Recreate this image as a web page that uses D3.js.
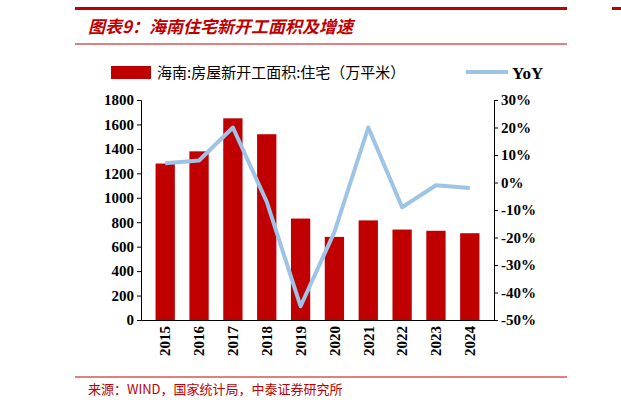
<!DOCTYPE html>
<html><head><meta charset="utf-8">
<script src="https://cdn.jsdelivr.net/npm/d3@7"></script>
<style>body{margin:0;background:#fff}</style>
</head><body>
<div id="chart"></div>
<script>
var years = ['2015','2016','2017','2018','2019','2020','2021','2022','2023','2024'];
var area = [1280, 1380, 1650, 1520, 830, 680, 815, 740, 730, 710];
var yoy = [7, 8, 20, -7, -45, -18, 20, -9, -1, -2];
var leftTicks = [0,200,400,600,800,1000,1200,1400,1600,1800];
var rightTicks = [-50,-40,-30,-20,-10,0,10,20,30];

var red = '#c00000', serif = '"Times New Roman","Liberation Serif",serif';
var svg = d3.select('#chart').append('svg').attr('width', 621).attr('height', 409);

svg.append('rect').attr('x', 75).attr('y', 7).attr('width', 492).attr('height', 3).attr('fill', red);
svg.append('rect').attr('x', 612).attr('y', 7).attr('width', 9).attr('height', 3).attr('fill', red);
svg.append('line').attr('x1', 75).attr('x2', 567).attr('y1', 44).attr('y2', 44).attr('stroke', red).attr('stroke-width', 1);
svg.append('text').attr('x', 88).attr('y', 33).attr('fill', red)
  .attr('font-size', 17).attr('font-weight', 'bold').attr('font-style', 'italic')
  .attr('font-family', '"Noto Sans CJK SC",sans-serif').text('图表9：海南住宅新开工面积及增速');

// legend
svg.append('rect').attr('x', 111).attr('y', 66).attr('width', 40).attr('height', 13).attr('fill', red);
svg.append('text').attr('x', 157).attr('y', 78).attr('font-size', 15)
  .attr('font-family', '"Noto Sans CJK SC",serif').text('海南:房屋新开工面积:住宅（万平米）');
svg.append('line').attr('x1', 466).attr('x2', 508).attr('y1', 72).attr('y2', 72)
  .attr('stroke', '#9dc3e6').attr('stroke-width', 4);
svg.append('text').attr('x', 512).attr('y', 79).attr('font-size', 17).attr('font-weight', 'bold')
  .attr('font-family', serif).text('YoY');

var x = d3.scaleBand().domain(years).range([141, 494]).padding(0.43);
var yl = d3.scaleLinear().domain([0, 1800]).range([320, 100]);
var yr = d3.scaleLinear().domain([-50, 30]).range([320, 100]);

svg.selectAll('.bar').data(area).enter().append('rect')
  .attr('x', function(d, i){ return x(years[i]); })
  .attr('width', x.bandwidth())
  .attr('y', function(d){ return yl(d); })
  .attr('height', function(d){ return 320 - yl(d); })
  .attr('fill', red);

var line = d3.line().x(function(d, i){ return x(years[i]) + x.bandwidth()/2; }).y(function(d){ return yr(d); });
svg.append('path').datum(yoy).attr('d', line).attr('fill', 'none')
  .attr('stroke', '#9dc3e6').attr('stroke-width', 4).attr('stroke-linejoin', 'round');

function styleAxis(g){
  g.selectAll('text').attr('font-family', serif).attr('font-size', 15).attr('font-weight', 'bold').attr('fill', '#000');
  g.selectAll('line,path').attr('stroke', '#000');
}
svg.append('g').attr('transform', 'translate(141,0)')
  .call(d3.axisLeft(yl).tickValues(leftTicks).tickSize(4).tickPadding(3).tickFormat(d3.format('d'))).call(styleAxis);
svg.append('g').attr('transform', 'translate(494,0)')
  .call(d3.axisRight(yr).tickValues(rightTicks).tickSize(4).tickPadding(3)
    .tickFormat(function(d){ return d + '%'; })).call(styleAxis);
var xa = svg.append('g').attr('transform', 'translate(0,320)')
  .call(d3.axisBottom(x).tickSize(0)).call(styleAxis);
xa.selectAll('text').attr('transform', 'rotate(-90)').attr('text-anchor', 'end')
  .attr('x', -6).attr('y', 0).attr('dy', '0.35em');

svg.append('line').attr('x1', 75).attr('x2', 567).attr('y1', 377).attr('y2', 377).attr('stroke', red).attr('stroke-width', 1);
svg.append('text').attr('x', 88).attr('y', 394).attr('fill', red).attr('font-size', 13)
  .attr('font-family', '"Noto Sans CJK SC",sans-serif').text('来源：WIND，国家统计局，中泰证券研究所');
</script>
</body></html>
